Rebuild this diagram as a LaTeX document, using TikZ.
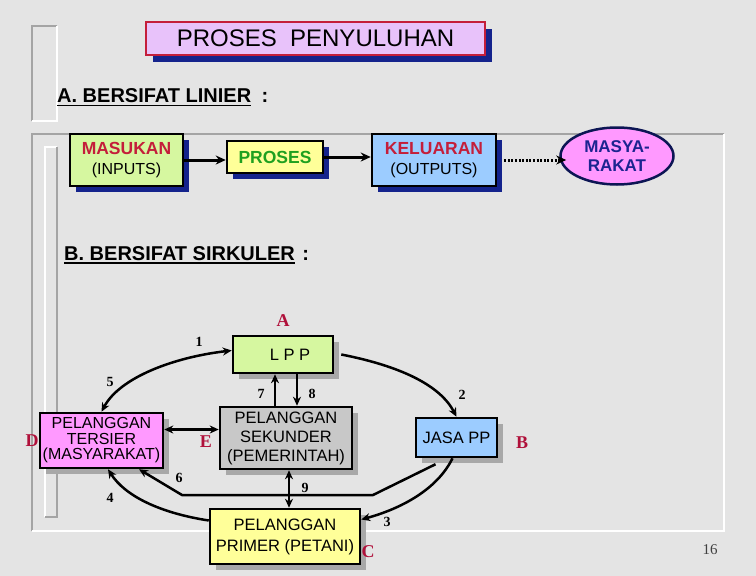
\documentclass[tikz,border=0pt]{standalone}
\usepackage{fontspec}
\setmainfont{Liberation Sans}
\newfontfamily\timesf{Liberation Serif}
\usetikzlibrary{arrows.meta,shapes.geometric,shadows}
\definecolor{bgc}{HTML}{E4E4E4}
\definecolor{fgray}{HTML}{A4A4A4}
\definecolor{crim}{HTML}{C41E3A}
\definecolor{lblc}{HTML}{B0103A}
\definecolor{grn}{HTML}{1FA01F}
\definecolor{navy}{HTML}{14238C}
\definecolor{lgreen}{HTML}{D6F7A0}
\definecolor{lyellow}{HTML}{FFFF99}
\definecolor{lblue}{HTML}{9CCCFF}
\definecolor{lpink}{HTML}{FF99FF}
\definecolor{lgray}{HTML}{C8C8C8}
\definecolor{shgray}{HTML}{A8A8A8}
\definecolor{lav}{HTML}{E8C2FA}
\definecolor{navytxt}{HTML}{1C2490}
\begin{document}
\begin{tikzpicture}[x=1pt,y=-1pt,
  framegray/.style={draw=fgray,line width=2pt},
  framewhite/.style={draw=white,line width=2pt},
  linbox/.style={draw=black,line width=2.5pt,rectangle,inner sep=0pt,align=center,
     font=\fontsize{16}{19.5}\selectfont,
     drop shadow={shadow xshift=6pt,shadow yshift=-6pt,fill=navy,opacity=1}},
  cirbox/.style={draw=black,line width=2.5pt,rectangle,inner sep=0pt,align=center,
     drop shadow={shadow xshift=6pt,shadow yshift=-6pt,fill=shgray,opacity=1}},
  arr/.style={line width=3pt,-{Stealth[length=10pt,width=9pt]}},
  carr/.style={line width=2.5pt,-{Stealth[length=9pt,width=8pt]}},
  cdbl/.style={line width=2.5pt,{Stealth[length=9pt,width=8pt]}-{Stealth[length=9pt,width=8pt]}},
  num/.style={font=\timesf\bfseries\fontsize{14}{14}\selectfont,inner sep=0pt},
  lbl/.style={font=\timesf\bfseries\fontsize{18}{18}\selectfont,text=lblc,inner sep=0pt},
  head/.style={font=\bfseries\fontsize{20}{20}\selectfont,inner sep=0pt,anchor=base west}
]
\useasboundingbox (0,0) rectangle (756,576);
\fill[bgc] (0,0) rectangle (756,576);

% decorative frames
\draw[framegray] (32,121) -- (32,26) -- (57,26);
\draw[framewhite] (57,26) -- (57,121) -- (32,121);
\draw[framegray] (32,531) -- (32,134) -- (724,134);
\draw[framewhite] (724,134) -- (724,531) -- (32,531);
\draw[framewhite] (45,517) -- (45,147) -- (57,147);
\draw[framegray] (57,147) -- (57,517) -- (45,517);

% title
\node[draw=crim,line width=2pt,fill=lav,minimum width=339pt,minimum height=33pt,inner sep=0pt,
  drop shadow={shadow xshift=7pt,shadow yshift=-7pt,fill=navy,opacity=1},
  font=\fontsize{24}{24}\selectfont] (title) at (315.5,38.5) {PROSES\ \ PENYULUHAN};

% headings
\node[head] (hA) at (57,102) {A. BERSIFAT LINIER};
\draw[line width=1.6pt] ([yshift=-3.5pt]hA.base west) -- ([yshift=-3.5pt]hA.base east);
\node[head] (hAc) at ([xshift=10pt]hA.base east) {:};
\node[head] (hB) at (64,260) {B. BERSIFAT SIRKULER};
\draw[line width=1.6pt] ([yshift=-3pt]hB.base west) -- ([yshift=-3pt]hB.base east);
\node[head] (hBc) at ([xshift=7pt]hB.base east) {:};

% linear part
\node[linbox,fill=lgreen,minimum width=113pt,minimum height=52pt] (masukan) at (126.5,160)
  {{\bfseries\color{crim}\fontsize{17.5}{19.5}\selectfont MASUKAN}\\(INPUTS)};
\node[linbox,fill=lyellow,minimum width=96pt,minimum height=32pt,font=\bfseries\fontsize{17.5}{18}\selectfont,text=grn] (proses) at (275,157) {PROSES};
\node[linbox,fill=lblue,minimum width=124pt,minimum height=52pt] (keluaran) at (434,160)
  {{\bfseries\color{crim}\fontsize{17.5}{19.5}\selectfont KELUARAN}\\(OUTPUTS)};
\node[ellipse,draw=navy!60!black,line width=2.5pt,fill=lpink,minimum width=113pt,minimum height=57pt,inner sep=0pt,
  align=center,text=navytxt,font=\bfseries\fontsize{17}{19}\selectfont] (masy) at (617,156) {MASYA-\\RAKAT};

\draw[arr] (masukan.east) -- (masukan.east -| proses.west);
\draw[arr] (proses.east) -- (proses.east -| keluaran.west);
\draw[line width=3pt,dash pattern=on 2pt off 1.6pt,-{Stealth[length=10pt,width=9pt]}]
  ([xshift=7pt]keluaran.east) -- ([xshift=7pt]keluaran.east -| masy.west);

% circular part
\node[cirbox,fill=lgreen,minimum width=100pt,minimum height=37pt,font=\fontsize{16.5}{17}\selectfont] (lpp) at (283,354.5) {\hspace{14pt}L P P};
\node[cirbox,fill=lpink,minimum width=123pt,minimum height=55pt,font=\fontsize{16}{15.5}\selectfont] (tersier) at (101.5,440.5) {PELANGGAN\\TERSIER\\(MASYARAKAT)};
\node[cirbox,fill=lgray,minimum width=132pt,minimum height=62pt,font=\fontsize{16.5}{19}\selectfont] (sekunder) at (286,438) {PELANGGAN\\SEKUNDER\\(PEMERINTAH)};
\node[cirbox,fill=lblue,minimum width=81pt,minimum height=39pt,font=\fontsize{16.5}{17}\selectfont] (jasa) at (456.5,437.5) {JASA PP};
\node[cirbox,fill=lyellow,minimum width=150pt,minimum height=55pt,font=\fontsize{16.5}{21}\selectfont] (primer) at (285,536.5) {PELANGGAN\\PRIMER (PETANI)};

% connectors
\draw[carr] ([xshift=7pt]lpp.east) .. controls (400,366) and (440,385) .. (jasa.north);
\draw[cdbl] ([yshift=4pt]lpp.west) .. controls (175,357) and (120,377) .. (tersier.north);
\draw[carr] ([xshift=-8pt]lpp.south |- sekunder.north) -- ([xshift=-8pt]lpp.south);
\draw[carr] ([xshift=14pt]lpp.south) -- ([xshift=14pt]lpp.south |- sekunder.north);
\draw[cdbl] ([yshift=11pt]tersier.east) -- ([yshift=11pt]tersier.east -| sekunder.west);
\draw[cdbl] ([xshift=3pt]sekunder.south) -- ([xshift=3pt]sekunder.south |- primer.north);
\draw[carr] ([xshift=-4pt]jasa.south) .. controls (437,490) and (400,509) .. ([yshift=17pt]primer.east);
\draw[carr,line join=round] ([xshift=-21pt,yshift=-6pt]jasa.south) -- (373,495) -- (182,495) -- ([xshift=37.5pt]tersier.south);
\draw[carr] ([yshift=16pt]primer.west) .. controls (160,513) and (125,496) .. ([xshift=6.5pt]tersier.south);

% labels
\node[lbl] (la) at (283,321) {A};
\node[lbl] (lb) at (522,443) {B};
\node[lbl] (lc) at (368,552) {C};
\node[lbl] (ld) at (32,441) {D};
\node[lbl] (le) at (206,442) {E};
\node[num] (n1) at (199,342) {1};
\node[num] (n2) at (462,395) {2};
\node[num] (n3) at (387,522) {3};
\node[num] (n4) at (110,498) {4};
\node[num] (n5) at (110,382) {5};
\node[num] (n6) at (179,478) {6};
\node[num] (n7) at (261,394) {7};
\node[num] (n8) at (312,394) {8};
\node[num] (n9) at (305,488) {9};
\node[font=\timesf\fontsize{15}{15}\selectfont,text=black!75,inner sep=0pt] (pg) at (710,550) {16};
\end{tikzpicture}
\end{document}
